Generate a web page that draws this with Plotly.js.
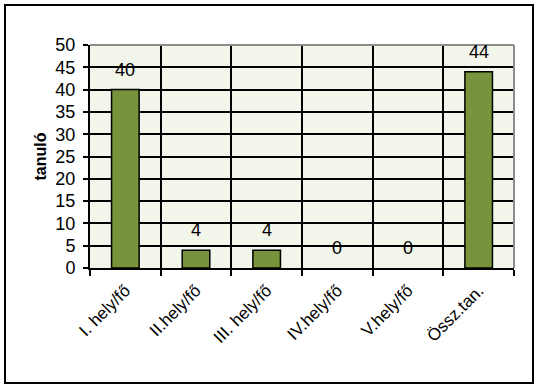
<!DOCTYPE html>
<html><head><meta charset="utf-8">
<script src="https://cdn.plot.ly/plotly-3.0.1.min.js"></script>
<style>body{margin:0;padding:0;background:#fff}</style>
</head><body>
<div id="chart" style="width:538px;height:390px"></div>
<script>
var categories = ["I. hely/fő", "II.hely/fő", "III. hely/fő", "IV.hely/fő", "V.hely/fő", "Össz.tan."];
var values = [40, 4, 4, 0, 0, 44];
var yTitle = "tanuló";

var trace = {
  type: "bar",
  x: categories,
  y: values,
  width: 0.39,
  marker: {color: "#77933C", line: {color: "#000", width: values.map(function(v){ return v === 0 ? 0 : 1.5; })}},
  hoverinfo: "none"
};

var annotations = categories.map(function(c, i){
  return {x: c, y: values[i], xref: "x", yref: "y", text: String(values[i]),
    showarrow: false, yanchor: "bottom", yshift: 8,
    font: {family: "Liberation Sans, Arial", size: 18, color: "#000"}};
});

var pl = 90, pr = 514, pt = 45, pb = 268, W = 538, H = 390;
var pw = pr - pl, ph = pb - pt;
function px(x){ return (x - pl) / pw; }
function py(y){ return (pb - y) / ph; }

var layout = {
  width: W, height: H,
  margin: {l: pl, r: W - pr, t: pt, b: H - pb, pad: 0},
  paper_bgcolor: "#fff",
  plot_bgcolor: "#F2F5EA",
  showlegend: false,
  font: {family: "Liberation Sans, Arial", color: "#000"},
  xaxis: {
    type: "category",
    tickson: "boundaries",
    showgrid: true, gridcolor: "#000", gridwidth: 2,
    showline: true, linecolor: "#000", linewidth: 2,
    ticks: "outside", ticklen: 6, tickwidth: 2, tickcolor: "#000",
    tickangle: -45,
    ticklabelstandoff: 4,
    tickfont: {size: 17, color: "#000"},
    fixedrange: true
  },
  yaxis: {
    range: [0, 50], dtick: 5, tick0: 0,
    showgrid: true, gridcolor: "#000", gridwidth: 2,
    zeroline: false,
    showline: true, linecolor: "#000", linewidth: 2,
    ticks: "outside", ticklen: 5, tickwidth: 2, tickcolor: "#000",
    ticklabelstandoff: 4,
    tickfont: {size: 18, color: "#000"},
    title: {text: yTitle, font: {size: 16, color: "#000", family: "Liberation Sans, Arial", weight: "bold"}, standoff: 5},
    fixedrange: true
  },
  annotations: annotations,
  shapes: [
    {type: "line", xref: "paper", yref: "paper", x0: 0, x1: 1, y0: 1, y1: 1, line: {color: "#8c8c8c", width: 2}, layer: "above"},
    {type: "line", xref: "paper", yref: "paper", x0: 1, x1: 1, y0: 0, y1: 1, line: {color: "#8c8c8c", width: 2}, layer: "above"},
    {type: "rect", xref: "paper", yref: "paper", x0: px(5), x1: px(533), y0: py(383), y1: py(5), line: {color: "#000", width: 2}, layer: "above"}
  ]
};

Plotly.newPlot("chart", [trace], layout, {displayModeBar: false, staticPlot: true});
</script>
</body></html>
